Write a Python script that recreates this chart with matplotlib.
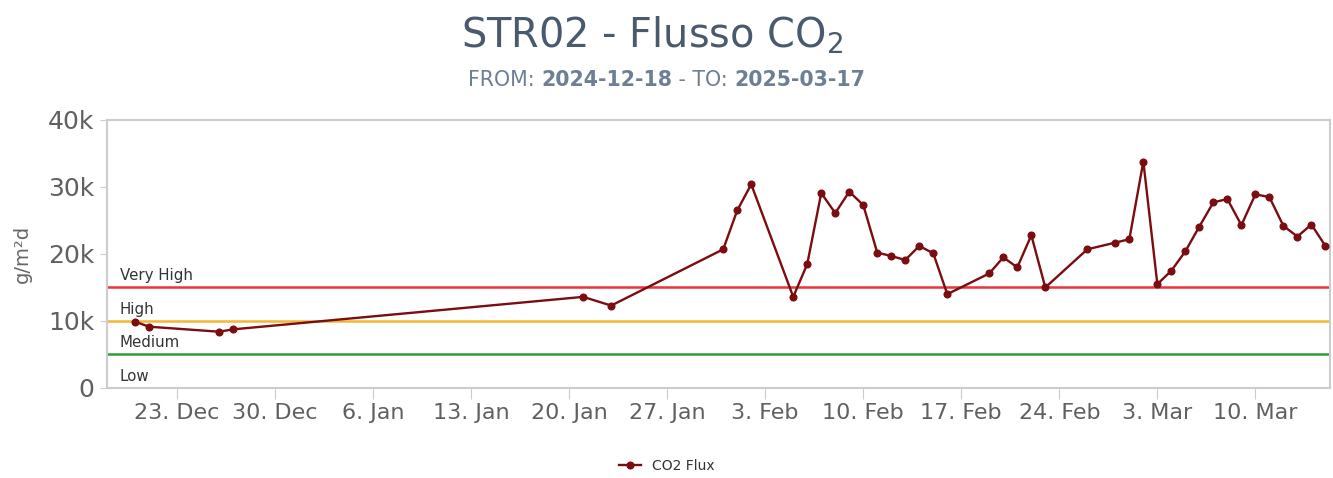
import matplotlib
matplotlib.use('Agg')
import matplotlib.pyplot as plt
import matplotlib.dates as mdates
from matplotlib.ticker import FuncFormatter, MultipleLocator
import pandas as pd

dates = ['2024-12-20', '2024-12-21', '2024-12-26', '2024-12-27', '2025-01-21', '2025-01-23',
         '2025-01-31', '2025-02-01', '2025-02-02', '2025-02-05', '2025-02-06', '2025-02-07',
         '2025-02-08', '2025-02-09', '2025-02-10', '2025-02-11', '2025-02-12', '2025-02-13',
         '2025-02-14', '2025-02-15', '2025-02-16', '2025-02-19', '2025-02-20', '2025-02-21',
         '2025-02-22', '2025-02-23', '2025-02-26', '2025-02-28', '2025-03-01', '2025-03-02',
         '2025-03-03', '2025-03-04', '2025-03-05', '2025-03-06', '2025-03-07', '2025-03-08',
         '2025-03-09', '2025-03-10', '2025-03-11', '2025-03-12', '2025-03-13', '2025-03-14',
         '2025-03-15']
co2_flux = [9900, 9150, 8400, 8750, 13600, 12300,
            20700, 26500, 30400, 13600, 18500, 29100,
            26100, 29300, 27300, 20200, 19700, 19100,
            21200, 20100, 14000, 17100, 19500, 18000,
            22800, 15000, 20700, 21700, 22200, 33800,
            15500, 17500, 20400, 24100, 27700, 28200,
            24300, 28900, 28500, 24200, 22600, 24400,
            21200]

thresholds = [15000, 10000, 5000]
threshold_colors = ['#e8343a', '#f2b632', '#2f9a3a']
band_labels = ['Very High', 'High', 'Medium', 'Low']
band_label_y = [15000, 10000, 5000, 0]


def make_graph():
    x = pd.to_datetime(dates)

    fig = plt.figure(figsize=(13.33, 4.78), dpi=100)
    ax = fig.add_axes([0.0803, 0.1883, 0.9175, 0.5607])

    for level, color in zip(thresholds, threshold_colors):
        ax.axhline(level, color=color, lw=1.8, zorder=2)
    for text, level in zip(band_labels, band_label_y):
        ax.text(pd.Timestamp('2024-12-18 22:00'), level + 650, text, fontsize=10.8,
                color='#333333', va='bottom', ha='left', zorder=3)

    ax.plot(x, co2_flux, color='#7b0c10', lw=1.7, marker='o', markersize=4.8,
            label='CO2 Flux', zorder=4)

    ax.set_xlim(pd.Timestamp('2024-12-18'), pd.Timestamp('2025-03-15 08:00'))
    ax.set_ylim(0, 40000)
    ax.yaxis.set_major_locator(MultipleLocator(10000))
    ax.yaxis.set_major_formatter(FuncFormatter(lambda v, p: '0' if v == 0 else f'{int(v / 1000)}k'))
    ax.xaxis.set_major_locator(mdates.WeekdayLocator(byweekday=mdates.MO))
    ax.xaxis.set_major_formatter(FuncFormatter(
        lambda v, p: f'{mdates.num2date(v).day}. {mdates.num2date(v):%b}'))

    ax.tick_params(axis='y', labelsize=18, colors='#606060', length=5, width=0.8,
                   color='#cccccc', pad=4)
    ax.tick_params(axis='x', labelsize=16, colors='#606060', length=8, width=0.8,
                   color='#cccccc', pad=3)
    for side in ['top', 'left', 'right', 'bottom']:
        ax.spines[side].set_color('#cccccc')
        ax.spines[side].set_linewidth(1.5)

    ax.set_ylabel('g/m²d', fontsize=14, color='#666666', labelpad=12)

    fig.text(0.4895, 0.925, 'STR02 - Flusso CO$_2$', ha='center', va='center',
             fontsize=28.7, color='#4a5a6e')
    sub = fig.text(0.351, 0.832, 'FROM: ', ha='left', va='center', fontsize=14.8, color='#6d7f94')
    renderer = fig.canvas.get_renderer()
    parts = [('2024-12-18', 'bold'), (' - TO: ', 'normal'), ('2025-03-17', 'bold')]
    prev = sub
    for text, weight in parts:
        bb = prev.get_window_extent(renderer=renderer)
        xpos = fig.transFigure.inverted().transform((bb.x1, bb.y0))[0]
        prev = fig.text(xpos, 0.832, text, ha='left', va='center', fontsize=14.8,
                        color='#6d7f94', fontweight=weight)

    fig.legend(loc='lower center', bbox_to_anchor=(0.5, -0.015), frameon=False, fontsize=10,
               labelcolor='#333333', handlelength=1.6)

    fig.savefig('out.png', dpi=100)


if __name__ == '__main__':
    make_graph()
